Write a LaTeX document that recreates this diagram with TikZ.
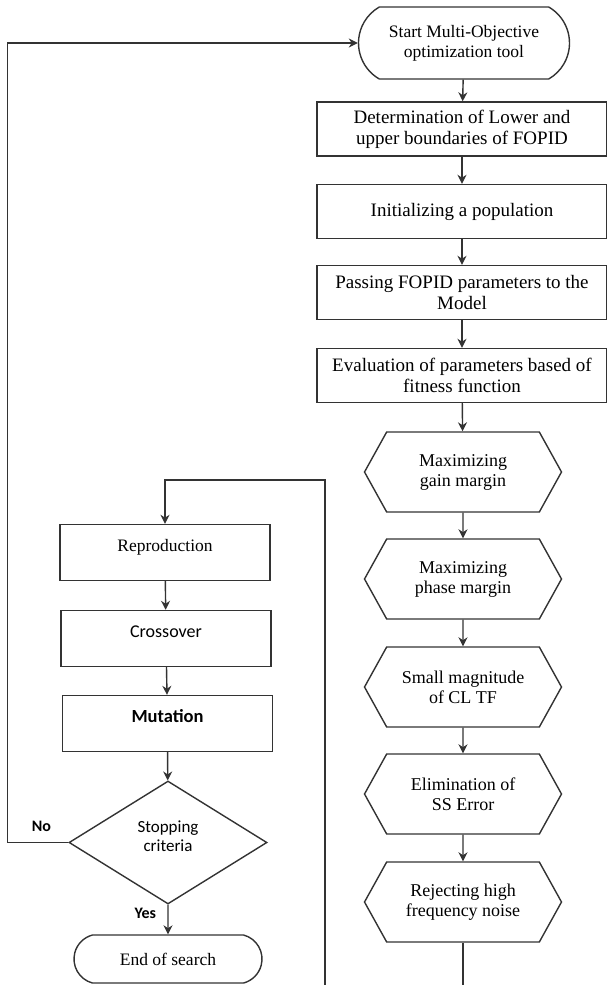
\documentclass[tikz,border=0pt]{standalone}
\usepackage{fontspec}
\setmainfont{Liberation Serif}
\newfontfamily\calibri{Carlito}
\usetikzlibrary{arrows.meta, shapes.geometric, shapes.misc, shapes.symbols, positioning}

\begin{document}
\begin{tikzpicture}[x=1pt, y=-1pt, >={Stealth[length=9pt,width=9pt]},
  flow/.style={draw=black!80, line width=1.4pt},
  terminal/.style={rounded rectangle, draw=black!80, line width=1.4pt, align=center, inner sep=0pt},
  procbox/.style={rectangle, draw=black!80, line width=1.4pt, align=center, inner sep=0pt,
    minimum width=290pt, minimum height=54pt, font=\fontsize{19}{21}\selectfont},
  goalhex/.style={signal, signal to=east and west, signal pointer angle=122, draw=black!80,
    line width=1.4pt, align=center, inner sep=0pt, minimum width=197pt, minimum height=80pt,
    font=\fontsize{18}{20}\selectfont},
  gabox/.style={rectangle, draw=black!80, line width=1.4pt, align=center, inner sep=0pt,
    minimum width=210pt, minimum height=56pt, text height=12pt, text depth=14pt},
  decision/.style={diamond, aspect=1.6, draw=black!80, line width=1.4pt, align=center,
    inner sep=0pt, minimum width=198pt, minimum height=123pt}]
  \useasboundingbox (0,0) rectangle (607,985);

  % right column
  \node[terminal, rounded rectangle arc length=120, minimum width=211pt, minimum height=72pt,
    font=\fontsize{17.5}{20}\selectfont] (start) at (464,43) {Start Multi-Objective\\optimization tool};
  \node[procbox] (bounds) at (462,129) {Determination of Lower and\\upper boundaries of FOPID};
  \node[procbox] (init) at (462,211.5) {Initializing a population};
  \node[procbox] (pass) at (462,292.5) {Passing FOPID parameters to the\\Model};
  \node[procbox] (eval) at (462,375.5) {Evaluation of parameters based of\\fitness function};
  \node[goalhex] (gain) at (463,472) {Maximizing\\gain margin};
  \node[goalhex] (phase) at (463,579) {Maximizing\\phase margin};
  \node[goalhex] (cltf) at (463,687) {Small magnitude\\of CL TF};
  \node[goalhex] (sserr) at (463,794) {Elimination of\\SS Error};
  \node[goalhex] (noise) at (463,902) {Rejecting high\\frequency noise};

  % left column
  \node[gabox, font=\fontsize{17.5}{20}\selectfont] (repro) at (165,552.5) {Reproduction};
  \node[gabox, font=\calibri\fontsize{18}{20}\selectfont] (cross) at (166,638.5) {Crossover};
  \node[gabox, font=\calibri\bfseries\fontsize{18.5}{20}\selectfont] (mut) at (167.5,723.5) {Mutation};
  \node[decision, font=\calibri\fontsize{17}{19}\selectfont] (stop) at (168,842.5) {Stopping\\criteria\\[-7pt]};
  \node[terminal, rounded rectangle arc length=150, minimum width=188pt, minimum height=48pt,
    font=\fontsize{17.5}{20}\selectfont] (finish) at (168,959) {End of search};

  \draw[flow,->] (start) -- (bounds);
  \draw[flow,->] (bounds) -- (init);
  \draw[flow,->] (init) -- (pass);
  \draw[flow,->] (pass) -- (eval);
  \draw[flow,->] (eval) -- (gain);
  \draw[flow,->] (gain) -- (phase);
  \draw[flow,->] (phase) -- (cltf);
  \draw[flow,->] (cltf) -- (sserr);
  \draw[flow,->] (sserr) -- (noise);
  \draw[flow,->] (noise.south) -- ++(0,60) -| (325,480) -| (repro.north);
  \draw[flow,->] (repro) -- (cross);
  \draw[flow,->] (cross) -- (mut);
  \draw[flow,->] (mut) -- (stop);
  \draw[flow,->] (stop) -- (finish) node[pos=0.3, left=8pt, font=\calibri\bfseries\fontsize{16}{18}\selectfont] {Yes};
  \draw[flow,->] (stop.west) -- ++(-61,0) node[pos=0.44, above=7pt, font=\calibri\bfseries\fontsize{16}{18}\selectfont] {No} |- (start.west);
\end{tikzpicture}
\end{document}
